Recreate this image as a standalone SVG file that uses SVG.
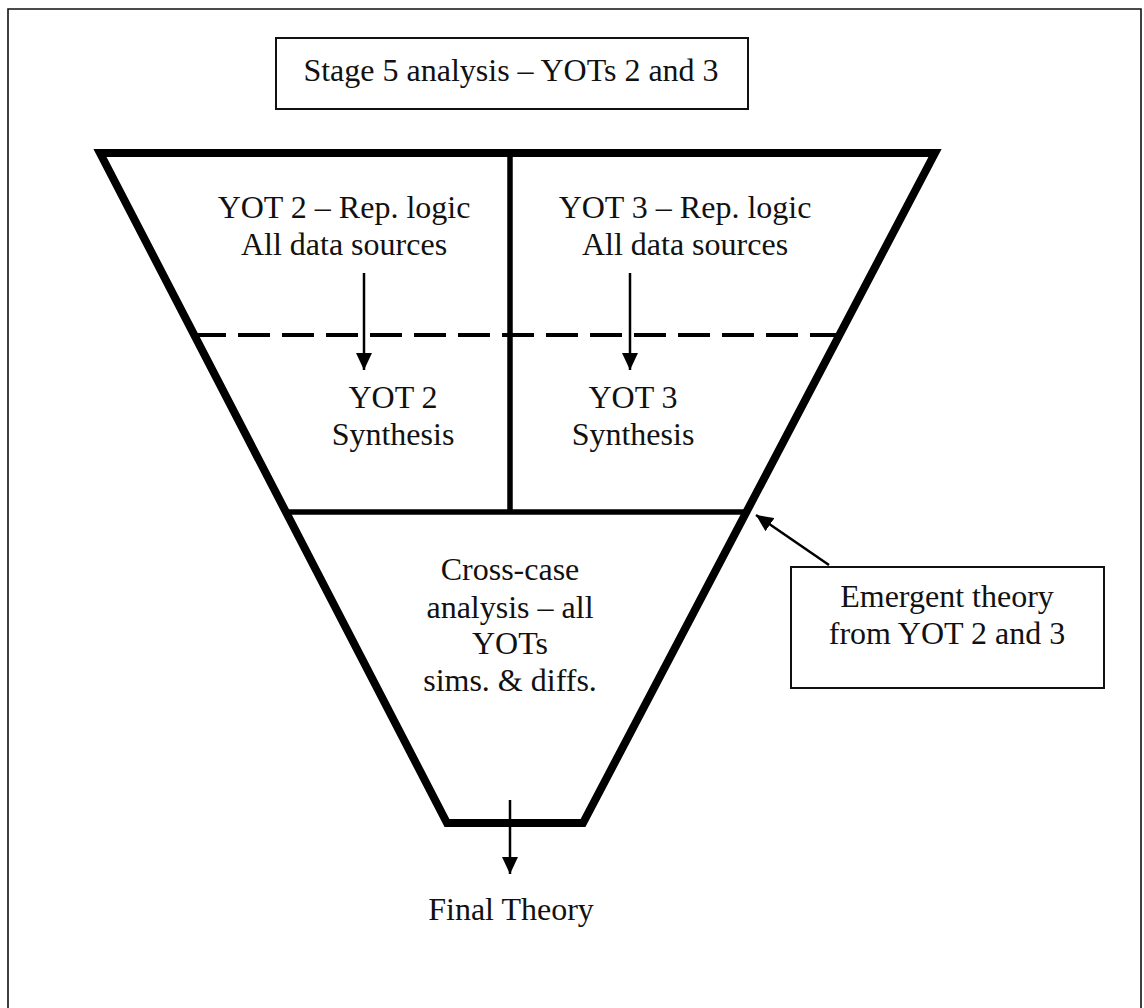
<svg xmlns="http://www.w3.org/2000/svg" width="1144" height="1008" viewBox="0 0 1144 1008">
<style>
text{font-family:"Liberation Serif","Times New Roman",serif;font-size:32px;fill:#111;text-anchor:middle}
.box{fill:#fff;stroke:#111;stroke-width:2}
.thick{fill:none;stroke:#000;stroke-width:8;stroke-linejoin:miter}
.mid{stroke:#000;stroke-width:5.5;fill:none}
.dash{stroke:#000;stroke-width:4;fill:none;stroke-dasharray:32 12}
.arr{stroke:#000;stroke-width:2.5;fill:none;marker-end:url(#ah)}
.frame{stroke:#111;stroke-width:1.6;fill:none}
</style>
<defs>
<marker id="ah" viewBox="0 0 17 16" refX="17" refY="8" markerWidth="17" markerHeight="16" markerUnits="userSpaceOnUse" orient="auto">
<path d="M0,0 L17,8 L0,16 z" fill="#000"/>
</marker>
</defs>
<rect width="1144" height="1008" fill="#fff"/>
<g id="frame">
<polyline class="frame" points="8,1008 8,9 1141,9 1141,1008"/>
</g>
<g id="title">
<rect class="box" x="276" y="38" width="472" height="71"/>
<text x="511" y="81">Stage 5 analysis – YOTs 2 and 3</text>
</g>
<g id="funnel">
<polygon class="thick" points="100,153 935,153 583,823 447,823"/>
<line class="mid" x1="510" y1="153" x2="510" y2="512"/>
<line class="mid" x1="286" y1="512" x2="746" y2="512"/>
<line class="dash" x1="194" y1="335" x2="839" y2="335"/>
</g>
<g id="yot2">
<text x="344" y="218">YOT 2 – Rep. logic</text>
<text x="344" y="255">All data sources</text>
<text x="393" y="408">YOT 2</text>
<text x="393" y="445">Synthesis</text>
</g>
<g id="yot3">
<text x="685" y="218">YOT 3 – Rep. logic</text>
<text x="685" y="255">All data sources</text>
<text x="633" y="408">YOT 3</text>
<text x="633" y="445">Synthesis</text>
</g>
<g id="crosscase">
<text x="510" y="580">Cross-case</text>
<text x="510" y="618">analysis – all</text>
<text x="510" y="654">YOTs</text>
<text x="510" y="691">sims. &amp; diffs.</text>
</g>
<g id="emergent">
<rect class="box" x="791" y="567" width="313" height="121"/>
<text x="947" y="607">Emergent theory</text>
<text x="947" y="644">from YOT 2 and 3</text>
</g>
<g id="final">
<text x="511" y="920">Final Theory</text>
</g>
<g id="connectors">
<line class="arr" x1="364" y1="273" x2="364" y2="370"/>
<line class="arr" x1="630" y1="273" x2="630" y2="370"/>
<line class="arr" x1="829" y1="565" x2="756" y2="515"/>
<line class="arr" x1="510" y1="800" x2="510" y2="874"/>
</g>
</svg>
